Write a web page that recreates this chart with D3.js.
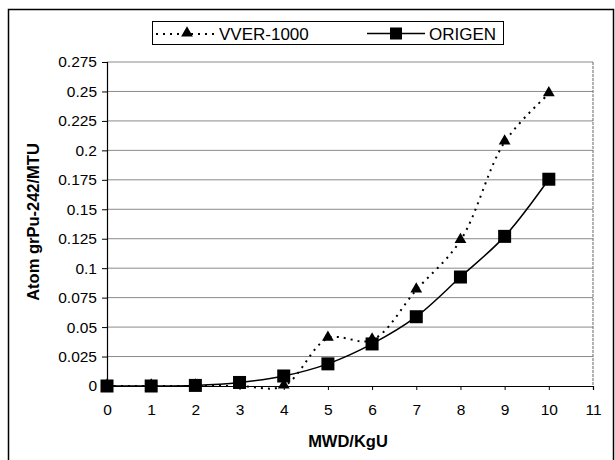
<!DOCTYPE html>
<html>
<head>
<meta charset="utf-8">
<script src="https://cdn.jsdelivr.net/npm/d3@7"></script>
<style>
  body { margin: 0; background: #fff; }
  text { font-family: Arial, "Liberation Sans", sans-serif; fill: #000; }
</style>
</head>
<body>
<div id="chart"></div>
<script>
// data
var burnup = [0, 1, 2, 3, 4, 5, 6, 7, 8, 9, 10];
var vver = [0, 0, 0, 0, 0, 0.0405, 0.039, 0.0815, 0.1235, 0.207, 0.248];
var origen = [0, 0, 0.0005, 0.003, 0.0085, 0.0188, 0.0357, 0.0588, 0.0925, 0.127, 0.1755];
var xTicks = [0, 1, 2, 3, 4, 5, 6, 7, 8, 9, 10, 11];
var yTicks = [0, 0.025, 0.05, 0.075, 0.1, 0.125, 0.15, 0.175, 0.2, 0.225, 0.25, 0.275];

var svgWidth = 615, svgHeight = 460;
var margin = { top: 62, right: 22, bottom: 74, left: 107 };
var plotWidth = svgWidth - margin.left - margin.right;
var plotHeight = svgHeight - margin.top - margin.bottom;

var svg = d3.select("#chart").append("svg")
  .attr("width", svgWidth)
  .attr("height", svgHeight);

// outer frame
svg.append("rect")
  .attr("x", 8.5).attr("y", 9.5)
  .attr("width", 605).attr("height", 460)
  .attr("fill", "none").attr("stroke", "#000").attr("stroke-width", 1.5);

var chartGroup = svg.append("g")
  .attr("transform", `translate(${margin.left}, ${margin.top})`);

var xScale = d3.scaleLinear().domain([0, 11]).range([0, plotWidth]);
var yScale = d3.scaleLinear().domain([0, 0.275]).range([plotHeight, 0]);

// gridlines
chartGroup.selectAll(".grid")
  .data(yTicks.filter(d => d > 0))
  .enter()
  .append("line")
  .attr("x1", 0).attr("x2", plotWidth)
  .attr("y1", d => yScale(d)).attr("y2", d => yScale(d))
  .attr("stroke", "#8a8a8a").attr("stroke-width", 1);

// right border of plot area
chartGroup.append("line")
  .attr("x1", plotWidth).attr("x2", plotWidth)
  .attr("y1", 0).attr("y2", plotHeight)
  .attr("stroke", "#666").attr("stroke-width", 1)
  .attr("stroke-dasharray", "3,1");

// axes
var leftAxis = d3.axisLeft(yScale).tickValues(yTicks).tickSize(5).tickPadding(6)
  .tickFormat(d => d3.format("")(+d.toFixed(3)));
var bottomAxis = d3.axisBottom(xScale).tickValues(xTicks).tickSize(4).tickPadding(14);

var yAxis = chartGroup.append("g").call(leftAxis);
var xAxis = chartGroup.append("g")
  .attr("transform", `translate(0, ${plotHeight})`)
  .call(bottomAxis);

[xAxis, yAxis].forEach(function(ax) {
  ax.select(".domain").attr("stroke", "#000").attr("stroke-width", 1.2);
  ax.selectAll("line").attr("stroke", "#000");
  ax.selectAll("text")
    .attr("font-size", 15.5)
    .attr("font-family", "Arial, 'Liberation Sans', sans-serif");
});
yAxis.selectAll("text").attr("dx", 1);

// lines
var vverLine = d3.line()
  .x((d, i) => xScale(burnup[i]))
  .y(d => yScale(d))
  .curve(d3.curveCatmullRom.alpha(0.5));

chartGroup.append("path")
  .attr("d", vverLine(vver))
  .attr("fill", "none")
  .attr("stroke", "#000")
  .attr("stroke-width", 2)
  .attr("stroke-dasharray", "2,5");

chartGroup.append("path")
  .attr("d", vverLine(origen))
  .attr("fill", "none")
  .attr("stroke", "#000")
  .attr("stroke-width", 1.5);

var tri = d3.symbol().type(d3.symbolTriangle).size(60);

chartGroup.selectAll(".tri")
  .data(vver)
  .enter()
  .append("path")
  .attr("d", tri)
  .attr("transform", (d, i) => `translate(${xScale(burnup[i])}, ${yScale(d) - 1})`)
  .attr("fill", "#000");

chartGroup.selectAll(".sq")
  .data(origen)
  .enter()
  .append("rect")
  .attr("x", (d, i) => xScale(burnup[i]) - 6.5)
  .attr("y", d => yScale(d) - 6.5)
  .attr("width", 13).attr("height", 13)
  .attr("fill", "#000");

// axis titles
svg.append("text")
  .attr("x", margin.left + plotWidth / 2 - 2)
  .attr("y", 447)
  .attr("text-anchor", "middle")
  .attr("font-size", 16.5)
  .attr("font-weight", "bold")
  .text("MWD/KgU");

svg.append("text")
  .attr("transform", `translate(39, ${margin.top + plotHeight / 2 - 2}) rotate(-90)`)
  .attr("text-anchor", "middle")
  .attr("font-size", 16.5)
  .attr("font-weight", "bold")
  .text("Atom grPu-242/MTU");

// legend
var legend = svg.append("g");
legend.append("rect")
  .attr("x", 152.5).attr("y", 21.5)
  .attr("width", 351).attr("height", 23)
  .attr("fill", "#fff").attr("stroke", "#000").attr("stroke-width", 1);

legend.append("line")
  .attr("x1", 156).attr("x2", 214).attr("y1", 34).attr("y2", 34)
  .attr("stroke", "#000").attr("stroke-width", 2).attr("stroke-dasharray", "2,5");
legend.append("path")
  .attr("d", tri)
  .attr("transform", "translate(187, 33)")
  .attr("fill", "#000");
legend.append("text")
  .attr("x", 219).attr("y", 39.5)
  .attr("font-size", 17)
  .text("VVER-1000");

legend.append("line")
  .attr("x1", 367).attr("x2", 425).attr("y1", 33.5).attr("y2", 33.5)
  .attr("stroke", "#000").attr("stroke-width", 1.5);
legend.append("rect")
  .attr("x", 390).attr("y", 27.5).attr("width", 12).attr("height", 12)
  .attr("fill", "#000");
legend.append("text")
  .attr("x", 429).attr("y", 39.5)
  .attr("font-size", 17)
  .text("ORIGEN");
</script>
</body>
</html>
